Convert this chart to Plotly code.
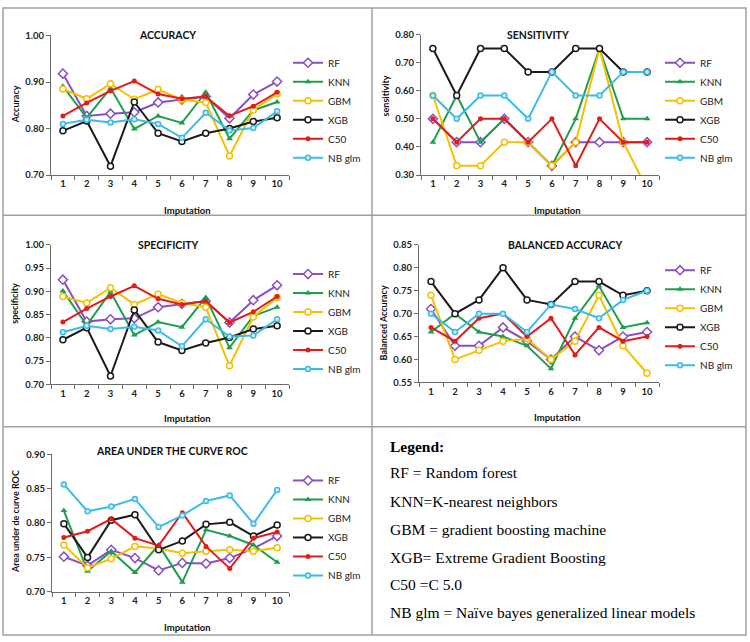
import plotly.graph_objects as go

W, H = 750, 642

imputation = list(range(1, 11))
models = ["RF", "KNN", "GBM", "XGB", "C50", "NB glm"]

# ---------------- data ----------------
accuracy_rf = [0.918, 0.827, 0.832, 0.835, 0.856, 0.862, 0.869, 0.822, 0.873, 0.901]
accuracy_knn = [0.891, 0.823, 0.887, 0.799, 0.827, 0.812, 0.878, 0.778, 0.839, 0.857]
accuracy_gbm = [0.885, 0.864, 0.896, 0.863, 0.884, 0.862, 0.856, 0.741, 0.840, 0.875]
accuracy_xgb = [0.795, 0.816, 0.719, 0.857, 0.790, 0.772, 0.790, 0.800, 0.815, 0.823]
accuracy_c50 = [0.827, 0.855, 0.881, 0.902, 0.874, 0.864, 0.869, 0.827, 0.848, 0.878]
accuracy_nb = [0.810, 0.819, 0.813, 0.820, 0.810, 0.780, 0.834, 0.796, 0.801, 0.837]

sensitivity_rf = [0.500, 0.417, 0.417, 0.500, 0.417, 0.333, 0.417, 0.417, 0.417, 0.417]
sensitivity_knn = [0.417, 0.583, 0.417, 0.500, 0.417, 0.333, 0.500, 0.750, 0.500, 0.500]
sensitivity_gbm = [0.583, 0.333, 0.333, 0.417, 0.417, 0.333, 0.417, 0.750, 0.417, 0.250]
sensitivity_xgb = [0.750, 0.583, 0.750, 0.750, 0.667, 0.667, 0.750, 0.750, 0.667, 0.667]
sensitivity_c50 = [0.500, 0.417, 0.500, 0.500, 0.417, 0.500, 0.333, 0.500, 0.417, 0.417]
sensitivity_nb = [0.583, 0.500, 0.583, 0.583, 0.500, 0.667, 0.583, 0.583, 0.667, 0.667]

specificity_rf = [0.925, 0.835, 0.840, 0.842, 0.866, 0.873, 0.879, 0.833, 0.881, 0.913]
specificity_knn = [0.901, 0.827, 0.899, 0.806, 0.834, 0.823, 0.887, 0.779, 0.847, 0.866]
specificity_gbm = [0.889, 0.875, 0.908, 0.872, 0.894, 0.875, 0.866, 0.740, 0.845, 0.887]
specificity_xgb = [0.796, 0.822, 0.718, 0.860, 0.791, 0.773, 0.789, 0.801, 0.819, 0.826]
specificity_c50 = [0.834, 0.863, 0.889, 0.912, 0.884, 0.872, 0.879, 0.833, 0.856, 0.889]
specificity_nb = [0.812, 0.826, 0.819, 0.824, 0.816, 0.782, 0.840, 0.803, 0.805, 0.840]

balanced_rf = [0.71, 0.63, 0.63, 0.67, 0.64, 0.60, 0.65, 0.62, 0.65, 0.66]
balanced_knn = [0.66, 0.70, 0.66, 0.65, 0.63, 0.58, 0.69, 0.76, 0.67, 0.68]
balanced_gbm = [0.74, 0.60, 0.62, 0.64, 0.645, 0.60, 0.64, 0.74, 0.63, 0.57]
balanced_xgb = [0.77, 0.70, 0.73, 0.80, 0.73, 0.72, 0.77, 0.77, 0.74, 0.75]
balanced_c50 = [0.67, 0.64, 0.69, 0.70, 0.65, 0.69, 0.61, 0.67, 0.64, 0.65]
balanced_nb = [0.70, 0.66, 0.70, 0.70, 0.66, 0.72, 0.71, 0.69, 0.73, 0.75]

auc_rf = [0.751, 0.738, 0.761, 0.749, 0.731, 0.742, 0.741, 0.749, 0.763, 0.781]
auc_knn = [0.818, 0.730, 0.759, 0.728, 0.768, 0.714, 0.790, 0.781, 0.768, 0.743]
auc_gbm = [0.768, 0.735, 0.748, 0.766, 0.763, 0.756, 0.759, 0.761, 0.759, 0.764]
auc_xgb = [0.799, 0.750, 0.804, 0.812, 0.761, 0.774, 0.798, 0.801, 0.781, 0.797]
auc_c50 = [0.779, 0.788, 0.806, 0.778, 0.767, 0.815, 0.766, 0.734, 0.778, 0.787]
auc_nb = [0.856, 0.817, 0.824, 0.835, 0.794, 0.811, 0.832, 0.840, 0.799, 0.848]

legend_lines = [
    "RF = Random forest",
    "KNN=K-nearest neighbors",
    "GBM = gradient boosting machine",
    "XGB= Extreme Gradient Boosting",
    "C50 =C 5.0",
    "NB glm = Naïve bayes generalized linear models",
]

# ---------------- styles ----------------
colors = {"RF": "#8a4fc4", "KNN": "#1f9e4e", "GBM": "#f5c000",
          "XGB": "#1a1a1a", "C50": "#e21b1b", "NB glm": "#3dbbe6"}
markers = {
    "RF": dict(symbol="diamond", size=7, color="white", line=dict(color=colors["RF"], width=1.5)),
    "KNN": dict(symbol="triangle-up", size=6, color=colors["KNN"], line=dict(width=0)),
    "GBM": dict(symbol="circle", size=6, color="white", line=dict(color=colors["GBM"], width=1.5)),
    "XGB": dict(symbol="circle", size=6, color="white", line=dict(color=colors["XGB"], width=1.5)),
    "C50": dict(symbol="circle", size=5, color=colors["C50"], line=dict(width=0)),
    "NB glm": dict(symbol="circle", size=5, color="#cdeefa", line=dict(color=colors["NB glm"], width=1.5)),
}

FONT = "Lato"
AXIS_COLOR = "#6b6b6b"


def px_x(x):
    return x / W


def px_y(y):
    return 1 - y / H


panels = [
    dict(series=[accuracy_rf, accuracy_knn, accuracy_gbm, accuracy_xgb, accuracy_c50, accuracy_nb],
         box=(51, 289, 30, 172), yr=(0.70, 1.00), dt=0.10, title="ACCURACY", tpos=(167, 30),
         ytitle="Accuracy", ytpos=(15, 100), xtpos=(187, 208), leg=(288, 43)),
    dict(series=[sensitivity_rf, sensitivity_knn, sensitivity_gbm, sensitivity_xgb, sensitivity_c50, sensitivity_nb],
         box=(421, 659, 29, 172), yr=(0.30, 0.80), dt=0.10, title="SENSITIVITY", tpos=(538, 30),
         ytitle="sensitivity", ytpos=(385, 92), xtpos=(557, 208), leg=(660, 43)),
    dict(series=[specificity_rf, specificity_knn, specificity_gbm, specificity_xgb, specificity_c50, specificity_nb],
         box=(51, 289, 243, 385), yr=(0.70, 1.00), dt=0.05, title="SPECIFICITY", tpos=(168, 243),
         ytitle="specificity", ytpos=(15, 303), xtpos=(187, 420), leg=(288, 258)),
    dict(series=[balanced_rf, balanced_knn, balanced_gbm, balanced_xgb, balanced_c50, balanced_nb],
         box=(419, 659, 243, 383), yr=(0.55, 0.85), dt=0.05, title="BALANCED ACCURACY", tpos=(565, 243),
         ytitle="Balanced Accuracy", ytpos=(383, 323), xtpos=(557, 419), leg=(660, 254)),
    dict(series=[auc_rf, auc_knn, auc_gbm, auc_xgb, auc_c50, auc_nb],
         box=(52, 289, 456, 596), yr=(0.70, 0.90), dt=0.05, title="AREA UNDER THE CURVE ROC", tpos=(172, 453),
         ytitle="Area under de curve ROC", ytpos=(15, 525), xtpos=(187, 632), leg=(288, 468)),
]

fig = go.Figure()
annotations = []
layout = dict(width=W, height=H, margin=dict(l=0, r=0, t=0, b=0),
              paper_bgcolor="white", plot_bgcolor="white",
              font=dict(family=FONT, color="#222"))

for i, p in enumerate(panels):
    n = "" if i == 0 else str(i + 1)
    x0, x1, y0, y1 = p["box"]
    legname = "legend" + n
    for m, vals in zip(models, p["series"]):
        fig.add_trace(go.Scatter(
            x=imputation, y=vals, name=m, mode="lines+markers",
            line=dict(color=colors[m], width=2), marker=markers[m],
            xaxis="x" + n, yaxis="y" + n, legend=legname,
            legendgroup=f"{i}-{m}",
        ))
    layout["xaxis" + n] = dict(
        domain=[px_x(x0), px_x(x1)], anchor="y" + n, range=[0.5, 10.5],
        tickvals=imputation, ticktext=[str(v) for v in imputation], ticks="",
        showline=True, linecolor=AXIS_COLOR, linewidth=1, showgrid=False, zeroline=False,
        tickfont=dict(size=9.5, family=FONT, weight="bold", color="#222"),
        minor=dict(tickvals=[v + 0.5 for v in range(0, 11)], ticks="outside",
                   ticklen=4, tickcolor=AXIS_COLOR, tickwidth=1),
    )
    layout["yaxis" + n] = dict(
        domain=[px_y(y1), px_y(y0)], anchor="x" + n, range=list(p["yr"]),
        tick0=p["yr"][0], dtick=p["dt"], tickformat=".2f", ticks="outside", ticklen=4,
        tickcolor=AXIS_COLOR, showline=True, linecolor=AXIS_COLOR, linewidth=1,
        showgrid=False, zeroline=False,
        tickfont=dict(size=9.5, family=FONT, weight="bold", color="#222"),
    )
    layout[legname] = dict(
        x=px_x(p["leg"][0]), y=px_y(p["leg"][1]), xanchor="left", yanchor="top",
        bgcolor="rgba(0,0,0,0)", font=dict(size=10, family=FONT, color="#222"),
        tracegroupgap=0, itemwidth=30,
    )
    annotations.append(dict(text=p["title"], x=px_x(p["tpos"][0]), y=px_y(p["tpos"][1]),
                            xref="paper", yref="paper", showarrow=False,
                            xanchor="center", yanchor="middle",
                            font=dict(size=10.5, family=FONT, weight="bold", color="#111")))
    annotations.append(dict(text=p["ytitle"], x=px_x(p["ytpos"][0]), y=px_y(p["ytpos"][1]),
                            xref="paper", yref="paper", showarrow=False, textangle=-90,
                            xanchor="center", yanchor="middle",
                            font=dict(size=9, family=FONT, weight="bold", color="#111")))
    annotations.append(dict(text="Imputation", x=px_x(p["xtpos"][0]), y=px_y(p["xtpos"][1]),
                            xref="paper", yref="paper", showarrow=False,
                            xanchor="center", yanchor="middle",
                            font=dict(size=9.5, family=FONT, weight="bold", color="#111")))

# text legend box
annotations.append(dict(text="<b>Legend:</b>", x=px_x(388), y=px_y(448), xref="paper", yref="paper",
                        showarrow=False, xanchor="left", yanchor="middle",
                        font=dict(size=15.5, family="Liberation Serif", color="#000")))
line_y = [475, 504, 533, 561, 589, 617]
for txt, yy in zip(legend_lines, line_y):
    annotations.append(dict(text=txt, x=px_x(388), y=px_y(yy), xref="paper", yref="paper",
                            showarrow=False, xanchor="left", yanchor="middle",
                            font=dict(size=15.5, family="Liberation Serif", color="#000")))

border = dict(color="#a0a0a0", width=1.5)
shapes = [
    dict(type="rect", xref="paper", yref="paper", x0=px_x(3), x1=px_x(746), y0=px_y(640), y1=px_y(2), line=border),
    dict(type="line", xref="paper", yref="paper", x0=px_x(372), x1=px_x(372), y0=px_y(640), y1=px_y(2), line=border),
    dict(type="line", xref="paper", yref="paper", x0=px_x(3), x1=px_x(746), y0=px_y(213), y1=px_y(213), line=border),
    dict(type="line", xref="paper", yref="paper", x0=px_x(3), x1=px_x(746), y0=px_y(428), y1=px_y(428), line=border),
]

layout["annotations"] = annotations
layout["shapes"] = shapes
fig.update_layout(**layout)

fig.write_html("out.html", config={"displayModeBar": False},
               post_script="document.body.style.margin='0px';document.body.style.overflow='hidden';")
